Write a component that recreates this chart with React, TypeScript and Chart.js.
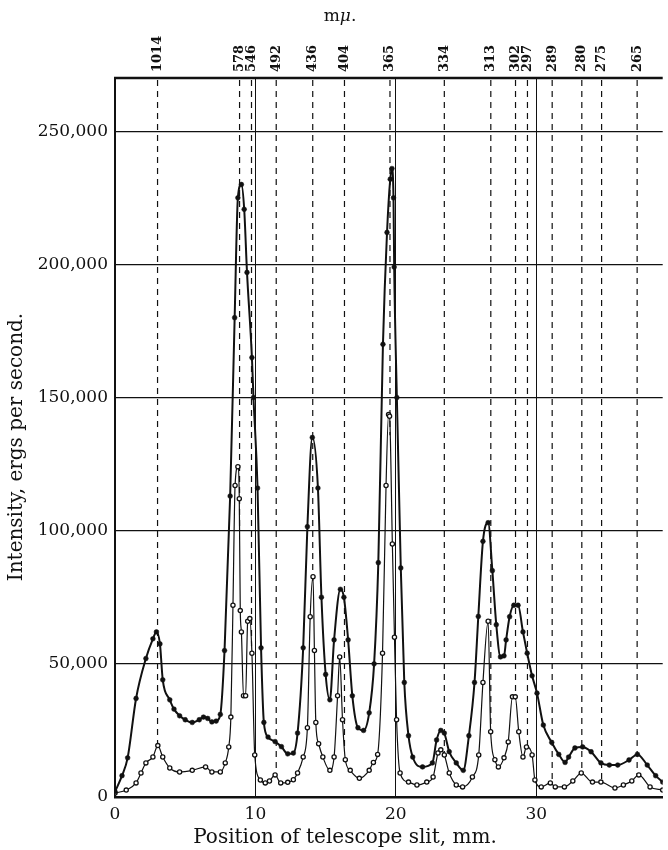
import React, { useEffect, useRef } from "react";
import { Chart, registerables } from "chart.js";

Chart.register(...registerables);

// Upper (heavy) curve: position (mm) and intensity (ergs/s)
const upperX = [0, 0.5, 0.9, 1.5, 2.2, 2.7, 2.95, 3.2, 3.4, 3.9, 4.2, 4.6, 5.0, 5.5, 6.0, 6.3, 6.6, 6.9, 7.2, 7.5, 7.8, 8.2, 8.52, 8.75, 9.0, 9.2, 9.4, 9.75, 9.86, 10.15, 10.4, 10.6, 10.9, 11.4, 11.85, 12.3, 12.7, 13.0, 13.4, 13.7, 14.05, 14.45, 14.7, 15.0, 15.3, 15.6, 16.05, 16.3, 16.6, 16.9, 17.3, 17.7, 18.1, 18.45, 18.75, 19.08, 19.37, 19.6, 19.72, 19.83, 19.88, 20.07, 20.35, 20.6, 20.9, 21.2, 21.9, 22.6, 22.9, 23.2, 23.45, 23.8, 24.3, 24.8, 25.2, 25.6, 25.87, 26.2, 26.57, 26.87, 27.15, 27.45, 27.7, 27.85, 28.1, 28.4, 28.7, 29.05, 29.35, 29.7, 30.05, 30.5, 31.1, 31.6, 32.05, 32.3, 32.75, 33.3, 33.9, 34.6, 35.2, 35.8, 36.6, 37.2, 37.9, 38.5, 39.0];
const upperY = [2000, 8000, 14700, 37000, 52000, 59400, 62000, 57500, 44000, 36500, 33000, 30500, 29000, 28000, 29000, 30000, 29500, 28200, 28500, 31000, 55000, 113000, 180000, 225000, 230000, 220700, 197000, 165000, 150000, 116000, 56000, 28000, 22500, 20800, 18900, 16200, 16500, 24000, 56000, 101500, 135000, 116000, 75000, 46000, 36500, 59000, 78000, 75000, 59000, 38000, 26000, 25000, 31600, 50000, 88000, 170000, 212000, 232000, 236000, 225000, 199000, 150000, 86000, 43000, 23000, 15000, 11300, 12800, 21400, 25000, 24000, 17000, 12800, 10000, 23000, 43000, 67800, 96000, 103000, 85000, 64700, 52600, 53000, 59000, 67700, 72000, 72000, 62000, 54000, 45500, 39000, 27000, 20500, 16000, 13000, 15000, 18400, 18800, 17000, 12800, 12000, 12000, 13900, 16000, 12000, 8000, 5600];

// Lower (light) curve
const lowerX = [0, 0.8, 1.5, 1.85, 2.2, 2.7, 3.05, 3.4, 3.9, 4.6, 5.5, 6.45, 6.9, 7.5, 7.85, 8.1, 8.25, 8.4, 8.55, 8.75, 8.85, 8.92, 9.0, 9.15, 9.3, 9.45, 9.6, 9.75, 9.95, 10.35, 10.7, 11.0, 11.4, 11.8, 12.3, 12.7, 13.0, 13.4, 13.7, 13.9, 14.1, 14.2, 14.3, 14.5, 14.8, 15.3, 15.6, 15.85, 16.0, 16.2, 16.4, 16.75, 17.4, 18.1, 18.4, 18.7, 19.05, 19.3, 19.48, 19.55, 19.75, 19.9, 20.05, 20.3, 20.9, 21.5, 22.2, 22.65, 23.0, 23.2, 23.45, 23.8, 24.3, 24.75, 25.45, 25.9, 26.2, 26.57, 26.75, 27.05, 27.3, 27.7, 28.0, 28.3, 28.5, 28.75, 29.05, 29.3, 29.7, 29.9, 30.35, 31.0, 31.35, 32.0, 32.6, 33.2, 34.0, 34.6, 35.6, 36.2, 36.8, 37.3, 38.1, 39.0];
const lowerY = [1500, 2600, 5300, 9000, 12800, 15000, 19300, 15000, 10900, 9400, 10000, 11300, 9400, 9400, 12800, 18800, 30000, 72000, 117000, 124000, 112000, 70000, 62000, 38000, 38000, 66000, 67000, 54000, 15800, 6400, 5300, 6000, 8300, 5300, 5500, 6500, 9000, 15000, 26000, 67700, 82700, 55000, 28000, 20000, 15000, 10000, 15000, 38000, 52600, 29000, 14000, 10000, 7000, 10000, 13000, 16000, 54000, 117000, 143600, 143000, 95000, 60000, 29000, 9000, 5600, 4500, 5600, 7500, 16500, 17700, 15800, 9000, 4500, 3800, 7500, 15800, 43000, 66000, 24500, 14000, 11300, 14700, 20700, 37600, 37600, 24500, 15000, 18800, 15800, 6400, 3800, 5300, 3800, 3800, 6000, 9000, 5600, 5600, 3400, 4500, 6000, 8300, 3800, 2600];

// Spectral lines: wavelength labels (mμ) and their slit positions (mm)
const lineLabels = ["1014", "578", "546", "492", "436", "404", "365", "334", "313", "302", "297", "289", "280", "275", "265"];
const linePositions = [3.03, 8.87, 9.72, 11.48, 14.08, 16.34, 19.58, 23.45, 26.76, 28.52, 29.37, 31.13, 33.24, 34.65, 37.18];

const xTicks = [0, 10, 20, 30];
const yTicks = [0, 50000, 100000, 150000, 200000, 250000];

const SERIF = "'DejaVu Serif', 'Liberation Serif', serif";
const INK = "#111";

const refPlugin = {
  id: "refDecor",
  beforeDatasetsDraw(chart: any) {
    const { ctx, chartArea, scales } = chart;
    const meta = chart.getDatasetMeta(1);
    const pts = meta.data as any[];
    ctx.save();
    ctx.strokeStyle = INK;
    ctx.lineWidth = 1.2;
    ctx.setLineDash([6, 5]);
    linePositions.forEach((p) => {
      const px = scales.x.getPixelForValue(p);
      let endY = chartArea.bottom;
      for (let i = 0; i < pts.length - 1; i++) {
        const a = pts[i], b = pts[i + 1];
        if (a.x <= px && b.x >= px) {
          const t = b.x === a.x ? 0 : (px - a.x) / (b.x - a.x);
          endY = a.y + (b.y - a.y) * t;
          break;
        }
      }
      ctx.beginPath();
      ctx.moveTo(px, chartArea.top + 2);
      ctx.lineTo(px, endY);
      ctx.stroke();
    });
    ctx.restore();
  },
  afterDraw(chart: any) {
    const { ctx, chartArea, scales } = chart;
    ctx.save();
    // top border
    ctx.strokeStyle = INK;
    ctx.lineWidth = 2.5;
    ctx.beginPath();
    ctx.moveTo(chartArea.left - 1, chartArea.top);
    ctx.lineTo(chartArea.right, chartArea.top);
    ctx.stroke();

    ctx.fillStyle = INK;
    // wavelength labels
    ctx.font = `bold 13px ${SERIF}`;
    ctx.textAlign = "left";
    ctx.textBaseline = "middle";
    lineLabels.forEach((lab, i) => {
      const px = scales.x.getPixelForValue(linePositions[i]);
      ctx.save();
      ctx.translate(px, chartArea.top - 6);
      ctx.rotate(-Math.PI / 2);
      ctx.fillText(lab, 0, 0);
      ctx.restore();
    });

    // m\u03bc. unit
    ctx.textBaseline = "middle";
    ctx.font = `17px ${SERIF}`;
    const w1 = ctx.measureText("m").width;
    ctx.font = `italic 17px ${SERIF}`;
    const w2 = ctx.measureText("\u03bc").width;
    ctx.font = `17px ${SERIF}`;
    const w3 = ctx.measureText(".").width;
    const sx = 340 - (w1 + w2 + w3) / 2;
    ctx.textAlign = "left";
    ctx.fillText("m", sx, 17);
    ctx.font = `italic 17px ${SERIF}`;
    ctx.fillText("\u03bc", sx + w1, 17);
    ctx.font = `17px ${SERIF}`;
    ctx.fillText(".", sx + w1 + w2, 17);

    // axis titles
    ctx.textAlign = "center";
    ctx.font = `20px ${SERIF}`;
    ctx.fillText("Position of telescope slit, mm.", 345, 838);
    ctx.save();
    ctx.translate(17, 447);
    ctx.rotate(-Math.PI / 2);
    ctx.fillText("Intensity, ergs per second.", 0, 0);
    ctx.restore();
    ctx.restore();
  },
};

export default function App() {
  const ref = useRef<HTMLCanvasElement | null>(null);
  useEffect(() => {
    if (!ref.current) return;
    const upper = upperX.map((x, i) => ({ x, y: upperY[i] }));
    const lower = lowerX.map((x, i) => ({ x, y: lowerY[i] }));
    const chart = new Chart(ref.current, {
      type: "scatter",
      data: {
        datasets: [
          {
            data: upper,
            showLine: true,
            borderColor: INK,
            borderWidth: 2,
            pointRadius: 2.4,
            pointBackgroundColor: INK,
            pointBorderColor: INK,
            pointBorderWidth: 0.5,
            cubicInterpolationMode: "monotone",
          },
          {
            data: lower,
            showLine: true,
            borderColor: INK,
            borderWidth: 1.2,
            pointRadius: 2.1,
            pointBackgroundColor: "#fff",
            pointBorderColor: INK,
            pointBorderWidth: 1.3,
            cubicInterpolationMode: "monotone",
          },
        ],
      } as any,
      plugins: [refPlugin as any],
      options: {
        animation: false,
        responsive: false,
        maintainAspectRatio: false,
        layout: { padding: { top: 78, right: 0, left: 0, bottom: 0 } },
        plugins: { legend: { display: false }, tooltip: { enabled: false }, title: { display: false } },
        scales: {
          x: {
            type: "linear",
            min: 0,
            max: 39,
            afterFit: (s: any) => { s.height = 53; },
            afterBuildTicks: (s: any) => { s.ticks = xTicks.map((v) => ({ value: v })); },
            ticks: { color: INK, font: { family: SERIF, size: 17 }, padding: 7, maxRotation: 0, autoSkip: false },
            grid: { color: INK, lineWidth: (c: any) => (c.tick && c.tick.value === 0 ? 0 : 1), drawTicks: false },
            border: { display: true, color: INK, width: 2.5 },
          },
          y: {
            type: "linear",
            min: 0,
            max: 270000,
            afterFit: (s: any) => { s.width = 115; },
            afterBuildTicks: (s: any) => { s.ticks = yTicks.map((v) => ({ value: v })); },
            ticks: {
              color: INK,
              font: { family: SERIF, size: 17 },
              padding: 7,
              autoSkip: false,
              callback: (v: any) => (v === 0 ? "0" : Number(v).toLocaleString("en-US")),
            },
            grid: { color: INK, lineWidth: (c: any) => (c.tick && c.tick.value === 0 ? 0 : 1.2), drawTicks: false },
            border: { display: true, color: INK, width: 2 },
          },
        },
      } as any,
    });
    return () => chart.destroy();
  }, []);
  return (
    <div style={{ position: "absolute", left: 0, top: 0, width: 668, height: 850, background: "#fff" }}>
      <canvas ref={ref} width={668} height={850} style={{ width: 668, height: 850 }} />
    </div>
  );
}
